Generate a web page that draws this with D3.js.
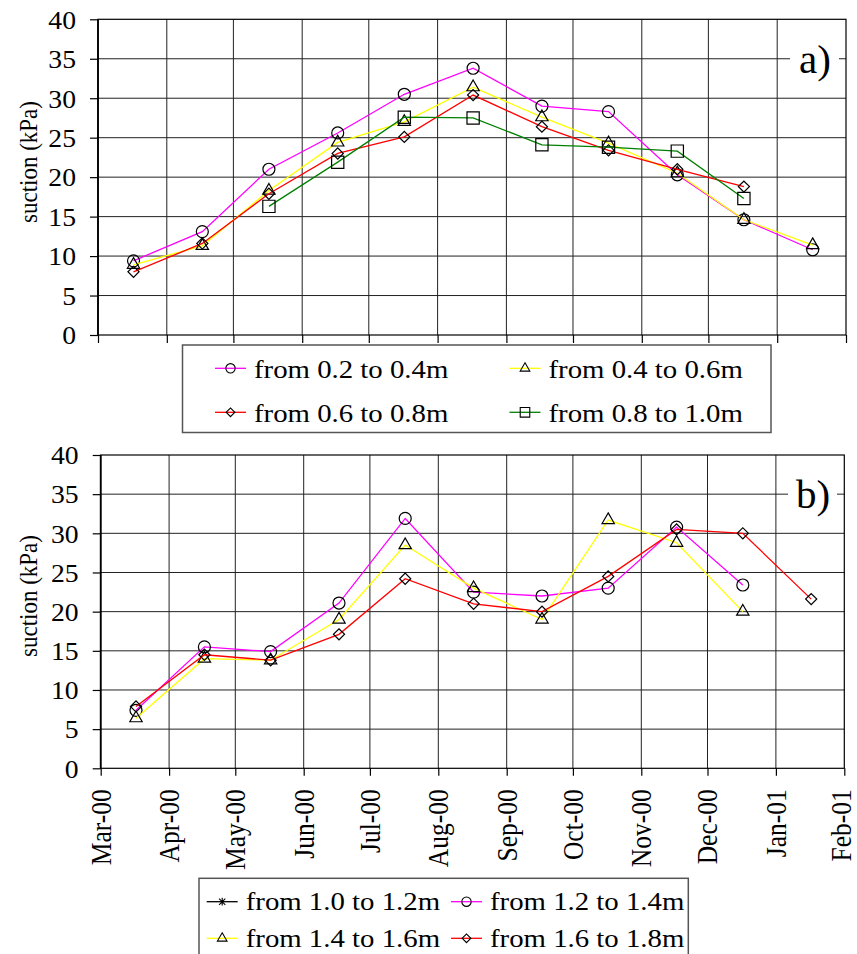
<!DOCTYPE html>
<html>
<head>
<meta charset="utf-8">
<script src="https://cdn.jsdelivr.net/npm/d3@7"></script>
</head>
<body style="margin:0;background:#fff">
<svg id="chart" width="857" height="954" style="display:block"></svg>
<script>
// ---- data -------------------------------------------------------------
// sampling dates (mid-month readings)
const sampleDates = ["2000-03-17", "2000-04-17", "2000-05-17", "2000-06-17", "2000-07-17",
  "2000-08-17", "2000-09-17", "2000-10-17", "2000-11-17", "2000-12-17", "2001-01-17"];

// y axis ticks (kPa)
const suctionTicks = [0, 5, 10, 15, 20, 25, 30, 35, 40];

// panel a) - shallow layers
const upperLabels = ["from 0.2 to 0.4m", "from 0.4 to 0.6m", "from 0.6 to 0.8m", "from 0.8 to 1.0m"];
const suction02to04 = [9.4, 13.1, 21.0, 25.6, 30.5, 33.8, 29.0, 28.3, 20.3, 14.6, 10.8];
const suction04to06 = [8.9, 11.3, 18.3, 24.4, 27.0, 31.4, 27.6, 24.3, 20.5, 14.6, 11.4];
const suction06to08 = [8.0, 11.6, 17.9, 23.0, 25.1, 30.4, 26.4, 23.4, 21.0, 18.8, null];
const suction08to10 = [null, null, 16.3, 21.9, 27.6, 27.5, 24.1, 23.8, 23.3, 17.3, null];

// panel b) - deep layers
const lowerLabels = ["from 1.0 to 1.2m", "from 1.2 to 1.4m", "from 1.4 to 1.6m", "from 1.6 to 1.8m"];
const suction10to12 = [null, null, null, null, null, null, null, null, null, null, null];
const suction12to14 = [7.4, 15.5, 14.9, 21.1, 31.9, 22.5, 22.0, 23.0, 30.8, 23.4, null];
const suction14to16 = [6.4, 14.0, 13.8, 19.0, 28.5, 23.0, 19.0, 31.7, 28.8, 20.0, null];
const suction16to18 = [7.9, 14.5, 13.8, 17.1, 24.2, 21.0, 20.0, 24.5, 30.5, 30.0, 21.6];

// ---- setup ------------------------------------------------------------
const FONT = '"Liberation Serif"';
const svg = d3.select("#chart");
const parseDate = d3.timeParse("%Y-%m-%d");
const dates = sampleDates.map(parseDate);
const xDomain = [new Date(2000, 2, 1), new Date(2001, 1, 1)];
const monthTicks = d3.timeMonth.range(xDomain[0], d3.timeDay.offset(xDomain[1], 1));
const SX = 1.13; // horizontal stretch of the lettering

function stretchedText(g, x, y, str, size, anchor, rotate) {
  return g.append("text")
    .attr("transform", `translate(${x},${y}) scale(${SX},1) rotate(${rotate || 0})`)
    .attr("text-anchor", anchor || "start")
    .style("font-family", FONT)
    .style("font-size", size + "px")
    .style("fill", "#000")
    .text(str);
}

function markerPath(shape, scale) {
  const k = scale || 1;
  switch (shape) {
    case "circle":   return d3.symbol(d3.symbolCircle, Math.PI * 36 * k * k)();
    case "triangle": return d3.symbol(d3.symbolTriangle, 66 * k * k)();
    case "diamond":  return d3.symbol(d3.symbolSquare, 62 * k * k)();
    case "square":   return d3.symbol(d3.symbolSquare, 150 * k * k)();
    case "asterisk": {
      const r = 5 * k;
      return `M0,${-r}L0,${r}M${-r * 0.8},${-r * 0.8}L${r * 0.8},${r * 0.8}M${-r * 0.8},${r * 0.8}L${r * 0.8},${-r * 0.8}`;
    }
  }
}
function markerRotation(shape) { return shape === "diamond" ? 45 : 0; }

function drawPanel(p) {
  const g = svg.append("g");
  const x = d3.scaleTime().domain(xDomain).range([p.left, p.right]);
  const y = d3.scaleLinear().domain([0, 40]).range([p.bottom, p.top]);

  // grid
  g.append("g").selectAll("line.h").data(suctionTicks.slice(1, -1)).join("line")
    .attr("x1", p.left).attr("x2", p.right)
    .attr("y1", d => y(d)).attr("y2", d => y(d))
    .attr("stroke", "#222").attr("stroke-width", 1);
  g.append("g").selectAll("line.v").data(monthTicks.slice(1, -1)).join("line")
    .attr("x1", d => x(d)).attr("x2", d => x(d))
    .attr("y1", p.top).attr("y2", p.bottom)
    .attr("stroke", "#222").attr("stroke-width", 1);

  // panel tag with white backing over the grid
  g.append("rect").attr("x", p.tagBox[0]).attr("y", p.tagBox[1])
    .attr("width", p.tagBox[2]).attr("height", p.tagBox[3]).attr("fill", "#fff");
  g.append("text").attr("x", p.tagX).attr("y", p.tagY)
    .style("font-family", FONT).style("fill", "#000")
    .style("font-size", "41px").text(p.tag);

  // frame
  g.append("rect").attr("x", p.left).attr("y", p.top)
    .attr("width", p.right - p.left).attr("height", p.bottom - p.top)
    .attr("fill", "none").attr("stroke", "#000").attr("stroke-width", 1.2);
  g.append("line").attr("x1", p.left).attr("x2", p.left).attr("y1", p.top).attr("y2", p.bottom)
    .attr("stroke", "#000").attr("stroke-width", 1.8);

  // y axis
  const yAxis = g.append("g").attr("transform", `translate(${p.left},0)`)
    .call(d3.axisLeft(y).tickValues(suctionTicks).tickSize(8).tickPadding(11.5));
  yAxis.select(".domain").remove();
  yAxis.selectAll(".tick line").attr("stroke", "#000").attr("stroke-width", 1.2);
  yAxis.selectAll(".tick text")
    .attr("transform", `scale(${SX},1)`)
    .attr("dy", "0.36em")
    .style("font-family", FONT)
    .style("font-size", "24.5px");

  // y title
  stretchedText(g, 37, p.titleY, "suction (kPa)", 23, "middle", -90);

  // x axis
  const xAxis = g.append("g").attr("transform", `translate(0,${p.bottom})`)
    .call(d3.axisBottom(x).tickValues(monthTicks).tickSize(p.xTick)
      .tickFormat(p.showMonths ? d3.timeFormat("%b-%y") : () => ""));
  xAxis.select(".domain").remove();
  xAxis.selectAll(".tick line").attr("stroke", "#000").attr("stroke-width", 1.2);
  if (p.showMonths) {
    const last = monthTicks.length - 1;
    xAxis.selectAll(".tick text")
      .attr("x", 0).attr("y", 0).attr("dy", 0)
      .attr("text-anchor", "end")
      // the last label sits against the right edge of the page
      .attr("transform", (d, i) => `translate(${i === last ? 6.5 : 9.5},21) scale(${SX},1) rotate(-90)`)
      .style("font-family", FONT)
      .style("font-size", "25.5px");
  } else {
    xAxis.selectAll(".tick text").remove();
  }

  // series
  const line = d3.line().defined(d => d.v != null).x(d => x(d.t)).y(d => y(d.v));
  p.series.forEach(s => {
    const pts = s.values.map((v, i) => ({ t: dates[i], v }));
    g.append("path").datum(pts).attr("d", line)
      .attr("fill", "none").attr("stroke", s.color).attr("stroke-width", 1.3);
    g.append("g").selectAll("path").data(pts.filter(d => d.v != null)).join("path")
      .attr("d", markerPath(s.shape))
      .attr("transform", d => `translate(${x(d.t)},${y(d.v)}) rotate(${markerRotation(s.shape)})`)
      .attr("fill", "none").attr("stroke", "#000").attr("stroke-width", 1.2);
  });

  // legend
  const L = p.legend;
  const lg = svg.append("g");
  lg.append("rect").attr("x", L.x).attr("y", L.y).attr("width", L.w).attr("height", L.h)
    .attr("fill", "#fff").attr("stroke", "#555").attr("stroke-width", 1.5);
  p.series.forEach((s, i) => {
    const col = i % 2, row = Math.floor(i / 2);
    const cx = L.cols[col], my = L.rows[row];
    lg.append("line").attr("x1", cx).attr("x2", cx + L.lineLen).attr("y1", my).attr("y2", my)
      .attr("stroke", s.color).attr("stroke-width", 1.3);
    lg.append("path").attr("d", markerPath(s.shape, 0.78))
      .attr("transform", `translate(${cx + L.lineLen / 2},${my}) rotate(${markerRotation(s.shape)})`)
      .attr("fill", "none").attr("stroke", "#000").attr("stroke-width", 1.1);
    stretchedText(lg, cx + L.textGap, my + L.baseShift, s.label, 25.5, "start", 0);
  });
}

drawPanel({
  left: 98, right: 846, top: 19.3, bottom: 335, xTick: 8, showMonths: false,
  titleY: 162, tag: "a)", tagX: 799, tagY: 73.3, tagBox: [790, 38, 49, 42],
  series: [
    { label: upperLabels[0], values: suction02to04, color: "#ff00ff", shape: "circle" },
    { label: upperLabels[1], values: suction04to06, color: "#ffff00", shape: "triangle" },
    { label: upperLabels[2], values: suction06to08, color: "#ff0000", shape: "diamond" },
    { label: upperLabels[3], values: suction08to10, color: "#008000", shape: "square" }
  ],
  legend: { x: 182.5, y: 345, w: 588.5, h: 87.5, cols: [215, 509.5], rows: [368.3, 412.3],
            lineLen: 31, textGap: 39, baseShift: 10 }
});

drawPanel({
  left: 100.7, right: 844.3, top: 455, bottom: 768.3, xTick: 7.5, showMonths: true,
  titleY: 596, tag: "b)", tagX: 796, tagY: 508.3, tagBox: [788, 473, 49, 42],
  series: [
    { label: lowerLabels[0], values: suction10to12, color: "#000000", shape: "asterisk" },
    { label: lowerLabels[1], values: suction12to14, color: "#ff00ff", shape: "circle" },
    { label: lowerLabels[2], values: suction14to16, color: "#ffff00", shape: "triangle" },
    { label: lowerLabels[3], values: suction16to18, color: "#ff0000", shape: "diamond" }
  ],
  legend: { x: 199, y: 878.3, w: 489.3, h: 110, cols: [206.7, 451], rows: [901.7, 938.3],
            lineLen: 31, textGap: 39, baseShift: 8.5 }
});
</script>
</body>
</html>
